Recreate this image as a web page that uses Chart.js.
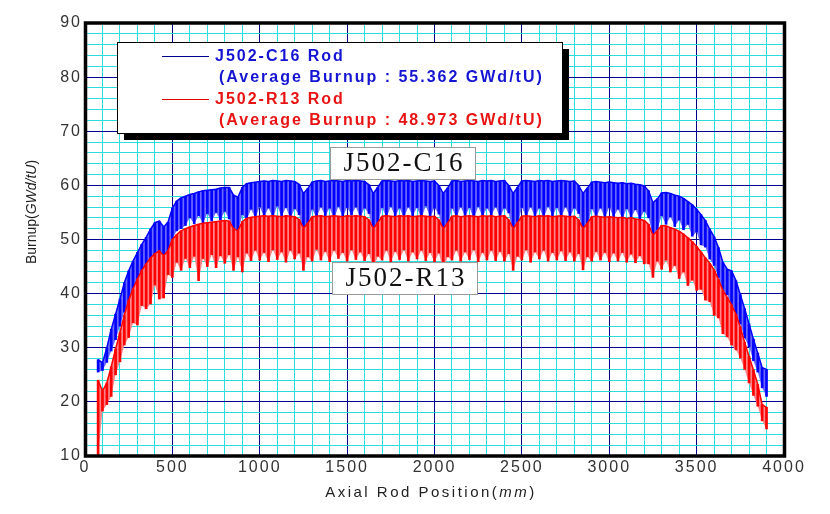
<!DOCTYPE html>
<html lang="en">
<head>
<meta charset="UTF-8">
<title>Axial burnup profile</title>
<script src="https://cdn.jsdelivr.net/npm/chart.js@4"></script>
<style>
    html, body { margin: 0; padding: 0; background: #fff; }
    #wrap { width: 830px; height: 514px; position: relative; }
</style>
</head>
<body>
<div id="wrap"><canvas id="burnupChart"></canvas></div>
<script>
// axial positions (mm) of the sampled pellets
const axialPos = [
    75,100,125,150,175,200,225,250,275,300,
    325,350,375,400,425,450,475,500,525,550,
    575,600,625,650,675,700,725,750,775,800,
    825,850,875,900,925,950,975,1000,1025,1050,
    1075,1100,1125,1150,1175,1200,1225,1250,1275,1300,
    1325,1350,1375,1400,1425,1450,1475,1500,1525,1550,
    1575,1600,1625,1650,1675,1700,1725,1750,1775,1800,
    1825,1850,1875,1900,1925,1950,1975,2000,2025,2050,
    2075,2100,2125,2150,2175,2200,2225,2250,2275,2300,
    2325,2350,2375,2400,2425,2450,2475,2500,2525,2550,
    2575,2600,2625,2650,2675,2700,2725,2750,2775,2800,
    2825,2850,2875,2900,2925,2950,2975,3000,3025,3050,
    3075,3100,3125,3150,3175,3200,3225,3250,3275,3300,
    3325,3350,3375,3400,3425,3450,3475,3500,3525,3550,
    3575,3600,3625,3650,3675,3700,3725,3750,3775,3800,
    3825,3850,3875,3900
];

// J502-C16: upper envelope and spike bottoms (GWd/tU)
const c16Top = [
    27.8,27.2,30.0,33.4,36.2,39.0,42.0,44.2,46.0,47.6,
    49.1,50.4,51.9,53.1,53.4,52.3,53.2,55.8,57.1,57.7,
    58.0,58.3,58.5,58.8,59.0,59.1,59.2,59.3,59.5,59.6,
    59.6,58.2,57.8,59.6,60.3,60.5,60.6,60.7,60.8,60.7,
    60.9,60.8,60.7,60.9,60.8,60.7,60.2,58.5,59.4,60.6,
    60.8,60.9,60.7,60.8,60.9,60.8,60.7,60.9,60.8,60.9,
    60.8,60.7,60.1,58.5,59.6,60.8,60.9,60.8,60.7,60.9,
    60.8,60.9,60.7,60.8,60.9,60.8,60.7,60.8,60.0,58.5,
    59.5,60.8,60.9,60.7,60.8,60.9,60.8,60.7,60.9,60.8,
    60.9,60.7,60.8,60.9,60.0,58.5,59.6,60.8,60.9,60.8,
    60.7,60.9,60.8,60.9,60.7,60.8,60.9,60.8,60.7,60.8,
    60.0,58.5,59.5,60.6,60.7,60.6,60.5,60.6,60.5,60.4,
    60.5,60.3,60.4,60.2,60.1,59.9,59.0,56.8,57.5,58.6,
    58.7,58.5,58.2,58.0,57.6,57.0,56.4,55.6,54.6,53.5,
    51.9,50.5,48.5,45.8,44.5,44.2,42.4,39.8,37.2,34.4,
    31.6,29.0,26.3,26.0
];
const c16Low = [
    25.5,25.8,27.3,29.4,31.5,34.0,36.6,38.5,40.3,41.9,
    43.4,44.6,45.6,46.9,47.4,46.8,48.0,50.2,51.6,52.0,
    52.6,54.0,52.9,54.4,53.1,54.8,53.4,55.0,53.6,55.2,
    53.8,51.8,51.2,54.6,53.6,55.6,54.0,56.0,54.2,55.8,
    54.0,56.2,54.3,55.9,53.9,55.7,54.6,51.0,52.5,55.6,
    54.1,56.0,54.4,55.8,53.8,56.1,54.2,55.9,54.5,56.0,
    54.0,55.8,54.8,51.2,52.8,55.9,54.1,56.1,54.3,55.8,
    54.0,56.0,54.4,55.9,53.9,56.2,54.2,55.8,54.7,51.1,
    52.6,55.8,54.1,56.0,54.3,55.9,53.8,56.1,54.2,55.8,
    54.5,56.0,54.1,55.8,54.9,51.0,52.7,55.9,54.2,56.0,
    54.3,55.8,54.0,56.1,54.4,55.9,54.1,56.0,54.2,55.8,
    54.8,51.2,52.6,55.7,54.1,55.8,54.0,55.9,54.2,55.6,
    53.9,55.7,54.1,55.5,53.8,55.2,54.0,50.8,51.8,54.4,
    52.8,54.2,52.4,53.6,51.8,52.8,50.6,51.4,49.0,48.6,
    46.4,45.2,43.0,40.6,39.8,38.0,36.2,34.4,31.8,30.2,
    27.6,25.5,22.6,21.0
];

// J502-R13: upper envelope and spike bottoms (GWd/tU)
const r13Top = [
    24.0,22.0,23.5,26.5,29.8,32.8,36.0,38.8,40.9,42.7,
    44.3,45.5,46.6,47.4,47.9,47.0,47.9,50.0,50.9,51.6,
    52.0,52.3,52.6,52.8,53.0,53.1,53.2,53.3,53.4,53.5,
    53.4,52.0,51.6,53.3,53.9,54.1,54.2,54.3,54.4,54.3,
    54.4,54.3,54.2,54.4,54.3,54.2,53.7,52.1,53.0,54.2,
    54.3,54.4,54.2,54.3,54.4,54.3,54.2,54.4,54.3,54.4,
    54.3,54.2,53.6,52.0,53.1,54.3,54.4,54.3,54.2,54.4,
    54.3,54.4,54.2,54.3,54.4,54.3,54.2,54.3,53.6,52.0,
    53.0,54.3,54.4,54.2,54.3,54.4,54.3,54.2,54.4,54.3,
    54.4,54.2,54.3,54.4,53.6,52.0,53.1,54.3,54.4,54.3,
    54.2,54.4,54.3,54.4,54.2,54.3,54.4,54.3,54.2,54.3,
    53.6,52.0,53.0,54.2,54.3,54.2,54.1,54.2,54.1,54.0,
    54.1,53.9,54.0,53.8,53.7,53.5,52.8,50.8,51.6,52.6,
    52.5,52.2,51.9,51.5,51.0,50.3,49.6,48.7,47.7,46.6,
    45.6,44.4,42.6,40.6,39.3,37.9,36.2,33.8,31.0,28.4,
    25.9,23.2,19.5,19.0
];
const r13Low = [
    10.0,18.3,19.5,21.0,25.0,27.4,30.5,31.9,34.6,34.2,
    37.8,37.2,38.1,41.6,39.0,39.2,43.5,43.0,45.8,44.3,
    46.5,44.8,46.9,42.4,46.5,45.0,47.2,44.8,47.0,45.6,
    47.2,44.3,46.8,44.0,47.5,46.1,48.0,46.2,47.6,45.9,
    48.1,46.3,47.7,45.8,48.0,46.4,47.5,44.3,46.8,46.0,
    48.2,46.2,47.8,45.9,48.0,46.5,47.6,46.0,48.1,46.3,
    47.7,46.1,47.4,44.4,46.9,46.2,48.0,45.9,47.8,46.3,
    48.1,46.0,47.7,46.4,48.0,46.1,47.6,45.8,47.5,44.3,
    46.8,46.2,48.0,46.0,47.7,46.3,48.1,45.9,47.6,46.2,
    48.0,46.1,47.8,46.0,47.4,44.3,46.9,46.2,48.1,45.8,
    47.7,46.4,48.0,46.0,47.6,46.2,47.9,46.1,47.7,46.0,
    47.4,44.4,46.8,46.0,47.8,46.2,47.6,45.9,47.5,46.0,
    47.6,45.8,47.3,45.7,47.0,45.5,45.5,43.0,46.0,44.5,
    46.2,44.0,45.2,42.8,44.0,41.5,42.5,40.6,40.8,38.8,
    38.5,36.0,35.5,32.6,32.0,30.5,29.6,28.1,26.0,23.5,
    21.2,19.2,16.5,15.0
];

const xTickLabels = [0, 500, 1000, 1500, 2000, 2500, 3000, 3500, 4000];
const yTickLabels = [10, 20, 30, 40, 50, 60, 70, 80, 90];
const rodNames = ['J502-C16 Rod', 'J502-R13 Rod'];
const avgBurnup = ['55.362', '48.973'];
const curveTags = ['J502-C16', 'J502-R13'];

const BLUE = '#0000ff', BLUE_LIGHT = '#6a6aff';
const RED = '#ff0000', RED_LIGHT = '#ff8686';
const MINOR = '#2ddcdc', MAJOR = '#00008c';

function points(vals) {
    return axialPos.map((x, i) => ({ x: x, y: vals[i] }));
}
function spans(lo, hi) {
    return axialPos.map((x, i) => ({ x: x, y: [lo[i], hi[i]] }));
}

// draw text made of runs, some italic
function drawRuns(ctx, runs, size, spacing) {
    ctx.letterSpacing = spacing + 'px';
    let total = 0;
    runs.forEach(r => {
        ctx.font = (r.it ? 'italic ' : '') + size + 'px "Liberation Sans", Arial, sans-serif';
        r.w = ctx.measureText(r.t).width;
        total += r.w;
    });
    let x = -total / 2;
    runs.forEach(r => {
        ctx.font = (r.it ? 'italic ' : '') + size + 'px "Liberation Sans", Arial, sans-serif';
        ctx.fillText(r.t, x, 0);
        x += r.w;
    });
}

const decor = {
    id: 'decor',
    beforeLayout(chart) {
        chart.ctx.letterSpacing = '2px';
    },
    afterDraw(chart) {
        const ctx = chart.ctx;
        const a = chart.chartArea;
        ctx.save();

        // plot frame
        ctx.lineWidth = 3.5;
        ctx.strokeStyle = '#000';
        ctx.strokeRect(a.left + 0.5, a.top, a.right - a.left, a.bottom - a.top);

        // legend box with drop shadow
        ctx.fillStyle = '#000';
        ctx.fillRect(124, 49, 445, 91);
        ctx.fillStyle = '#fff';
        ctx.fillRect(117, 42, 445, 91);
        ctx.lineWidth = 1;
        ctx.strokeStyle = '#000';
        ctx.strokeRect(117.5, 42.5, 445, 91);

        const legendRows = [
            { y: 56, line: '#00008a', text: '#1414d2' },
            { y: 99, line: '#e00000', text: '#e81414' }
        ];
        legendRows.forEach((row, i) => {
            ctx.strokeStyle = row.line;
            ctx.lineWidth = 1;
            ctx.beginPath();
            ctx.moveTo(162, row.y + 0.5);
            ctx.lineTo(209, row.y + 0.5);
            ctx.stroke();
            ctx.fillStyle = row.text;
            ctx.font = 'bold 16px "Liberation Sans", Arial, sans-serif';
            ctx.letterSpacing = '2px';
            ctx.textAlign = 'left';
            ctx.textBaseline = 'middle';
            ctx.fillText(rodNames[i], 215, row.y + 1);
            ctx.fillText('(Average Burnup : ' + avgBurnup[i] + ' GWd/tU)', 219, row.y + 22);
        });

        // curve tags
        const tags = [
            { x: 330, y: 147 },
            { x: 332, y: 262 }
        ];
        tags.forEach((t, i) => {
            ctx.fillStyle = '#fff';
            ctx.fillRect(t.x, t.y, 145, 32);
            ctx.strokeStyle = '#9a9a9a';
            ctx.lineWidth = 1;
            ctx.strokeRect(t.x + 0.5, t.y + 0.5, 145, 32);
            ctx.fillStyle = '#111';
            ctx.font = '27px "Liberation Serif", "DejaVu Serif", serif';
            ctx.letterSpacing = '2px';
            ctx.textAlign = 'center';
            ctx.textBaseline = 'middle';
            ctx.fillText(curveTags[i], t.x + 74, t.y + 17);
        });

        // axis titles
        ctx.fillStyle = '#222';
        ctx.textAlign = 'left';
        ctx.textBaseline = 'middle';
        ctx.save();
        ctx.translate(32, 212);
        ctx.rotate(-Math.PI / 2);
        drawRuns(ctx, [{ t: 'Burnup(' }, { t: 'GWd/tU', it: true }, { t: ')' }], 14, 0);
        ctx.restore();
        ctx.save();
        ctx.translate(431, 493);
        drawRuns(ctx, [{ t: 'Axial Rod Position(' }, { t: 'mm', it: true }, { t: ')' }], 15, 2.5);
        ctx.restore();

        ctx.restore();
    }
};

const tickFont = { family: '"Liberation Sans", Arial, sans-serif', size: 16 };

new Chart(document.getElementById('burnupChart'), {
    type: 'bar',
    data: {
        datasets: [
            { type: 'line', data: points(c16Low), borderWidth: 0, pointRadius: 0, fill: false, order: 7 },
            { type: 'line', data: points(c16Top), borderColor: BLUE, borderWidth: 1.5, pointRadius: 0,
              backgroundColor: BLUE_LIGHT, fill: '-1', order: 6 },
            { type: 'bar', data: spans(c16Low, c16Top), backgroundColor: BLUE, barThickness: 2,
              grouped: false, order: 5 },
            { type: 'line', data: points(r13Low), borderWidth: 0, pointRadius: 0, fill: false, order: 4 },
            { type: 'line', data: points(r13Top), borderColor: RED, borderWidth: 1.5, pointRadius: 0,
              backgroundColor: RED_LIGHT, fill: '-1', order: 3 },
            { type: 'bar', data: spans(r13Low, r13Top), backgroundColor: RED, barThickness: 2,
              grouped: false, order: 2 }
        ]
    },
    options: {
        responsive: true,
        maintainAspectRatio: false,
        animation: false,
        events: [],
        layout: { padding: { left: 0, top: 23, right: 46, bottom: 0 } },
        plugins: { legend: { display: false }, tooltip: { enabled: false } },
        scales: {
            x: {
                type: 'linear',
                min: 0,
                max: 4000,
                offset: false,
                border: { display: false },
                grid: {
                    offset: false,
                    drawTicks: false,
                    color: c => xTickLabels.includes(c.tick.value) ? MAJOR : MINOR
                },
                ticks: {
                    stepSize: 100,
                    autoSkip: false,
                    maxRotation: 0,
                    padding: 2,
                    color: '#333',
                    font: tickFont,
                    callback: v => xTickLabels.includes(v) ? String(v) : ''
                },
                afterFit: s => { s.height = 58; }
            },
            y: {
                type: 'linear',
                min: 10,
                max: 90,
                beginAtZero: false,
                border: { display: false },
                grid: {
                    drawTicks: false,
                    color: c => yTickLabels.includes(c.tick.value) ? MAJOR : MINOR
                },
                ticks: {
                    stepSize: 2,
                    autoSkip: false,
                    padding: 3,
                    color: '#333',
                    font: tickFont,
                    callback: v => yTickLabels.includes(v) ? String(v) : ''
                },
                afterFit: s => { s.width = 85; }
            }
        }
    },
    plugins: [decor]
});
</script>
</body>
</html>
